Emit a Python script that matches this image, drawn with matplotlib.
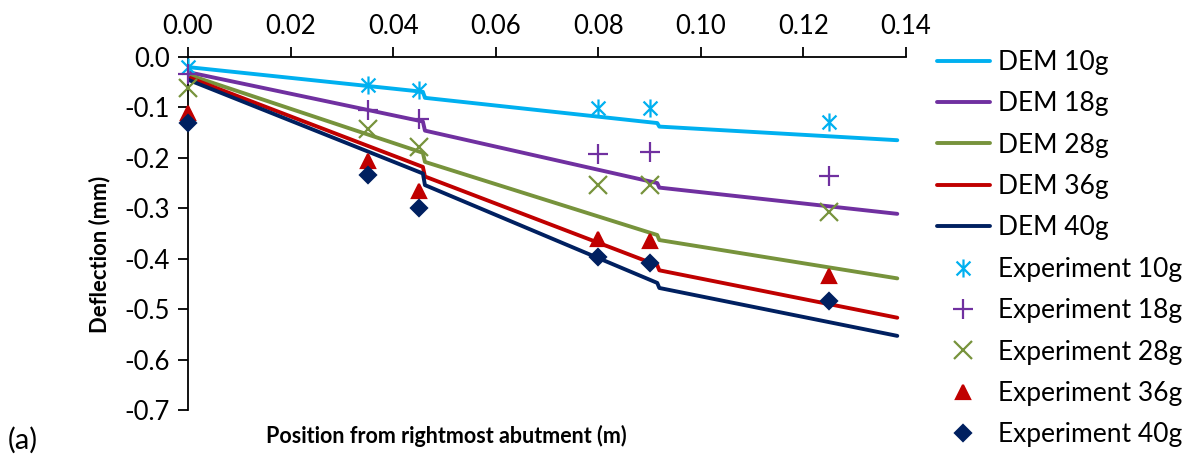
import matplotlib
matplotlib.use("Agg")
import matplotlib.pyplot as plt
from matplotlib.path import Path

plt.rcParams['font.family'] = ['Lato', 'DejaVu Sans']

# DEM curves: three straight runs with small jogs at the two supports
dem_x = [0.0, 0.0458, 0.0462, 0.0915, 0.0919, 0.1383]
dem_10 = [-0.020, -0.069, -0.081, -0.131, -0.138, -0.165]
dem_18 = [-0.030, -0.128, -0.146, -0.250, -0.259, -0.311]
dem_28 = [-0.035, -0.190, -0.208, -0.353, -0.363, -0.439]
dem_36 = [-0.040, -0.218, -0.237, -0.413, -0.423, -0.517]
dem_40 = [-0.045, -0.231, -0.254, -0.448, -0.458, -0.553]

# measured points
exp_x = [0.0, 0.035, 0.045, 0.080, 0.090, 0.125]
exp_10 = [-0.020, -0.055, -0.065, -0.102, -0.102, -0.129]
exp_18 = [-0.033, -0.105, -0.123, -0.193, -0.188, -0.236]
exp_28 = [-0.062, -0.143, -0.178, -0.254, -0.254, -0.307]
exp_36 = [-0.112, -0.206, -0.266, -0.361, -0.365, -0.434]
exp_40 = [-0.131, -0.234, -0.300, -0.397, -0.409, -0.484]

loads = ['10g', '18g', '28g', '36g', '40g']
colors = ['#00B0F0', '#7030A0', '#77933C', '#C00000', '#002060']

xticks = [0.00, 0.02, 0.04, 0.06, 0.08, 0.10, 0.12, 0.14]
yticks = [0.0, -0.1, -0.2, -0.3, -0.4, -0.5, -0.6, -0.7]

# asterisk = x plus a vertical bar
star = Path([(-1, -1), (1, 1), (-1, 1), (1, -1), (0, -1.3), (0, 1.3)],
            [Path.MOVETO, Path.LINETO] * 3)

fig = plt.figure(figsize=(11.95, 4.68), dpi=100)
ax = fig.add_axes([188 / 1195, 1 - 410 / 468, 718 / 1195, 353 / 468])

dem = [dem_10, dem_18, dem_28, dem_36, dem_40]
exp = [exp_10, exp_18, exp_28, exp_36, exp_40]
markers = [star, '+', 'x', '^', 'D']
msizes = [13, 14, 13, 10, 8.5]

handles = []
for ys, c, ld in zip(dem, colors, loads):
    h, = ax.plot(dem_x, ys, color=c, lw=2.8, solid_capstyle='round',
                 label='DEM ' + ld, zorder=2)
    handles.append(h)
for ys, c, m, ms, ld in zip(exp, colors, markers, msizes, loads):
    filled = m in ('^', 'D')
    h, = ax.plot(exp_x, ys, ls='none', marker=m, ms=ms, mew=1.6,
                 mec=c, mfc=c if filled else 'none',
                 label='Experiment ' + ld, zorder=3, clip_on=False)
    handles.append(h)

ax.set_xlim(0, 0.14)
ax.set_ylim(-0.7, 0)
ax.set_xticks(xticks)
ax.set_xticklabels(['%.2f' % v for v in xticks])
ax.set_yticks(yticks)
ax.set_yticklabels(['%.1f' % v for v in yticks])
ax.xaxis.tick_top()
ax.tick_params(axis='both', direction='out', length=7, width=1.3,
               labelsize=18.5, color='black')
ax.tick_params(axis='x', pad=6)
ax.tick_params(axis='y', pad=6)

for s in ['right', 'bottom']:
    ax.spines[s].set_visible(False)
for s in ['left', 'top']:
    ax.spines[s].set_linewidth(1.3)

fig.text(446 / 1195, 1 - 436 / 468, 'Position from rightmost abutment (m)',
         ha='center', va='center', fontsize=15.5, fontweight='bold')
fig.text(100 / 1195, 1 - 254 / 468, 'Deflection (mm)', rotation=90,
         ha='center', va='center', fontsize=15.8, fontweight='bold')
fig.text(8 / 1195, 1 - 440 / 468, '(a)', ha='left', va='center', fontsize=21)

fig.legend(handles=handles, loc='upper left',
           bbox_to_anchor=(937 / 1195, 1 - 50 / 468),
           frameon=False, fontsize=19, handlelength=2.0,
           handletextpad=0.3, labelspacing=0.62, borderpad=0,
           borderaxespad=0, numpoints=1)

fig.savefig('out.png', dpi=100)
